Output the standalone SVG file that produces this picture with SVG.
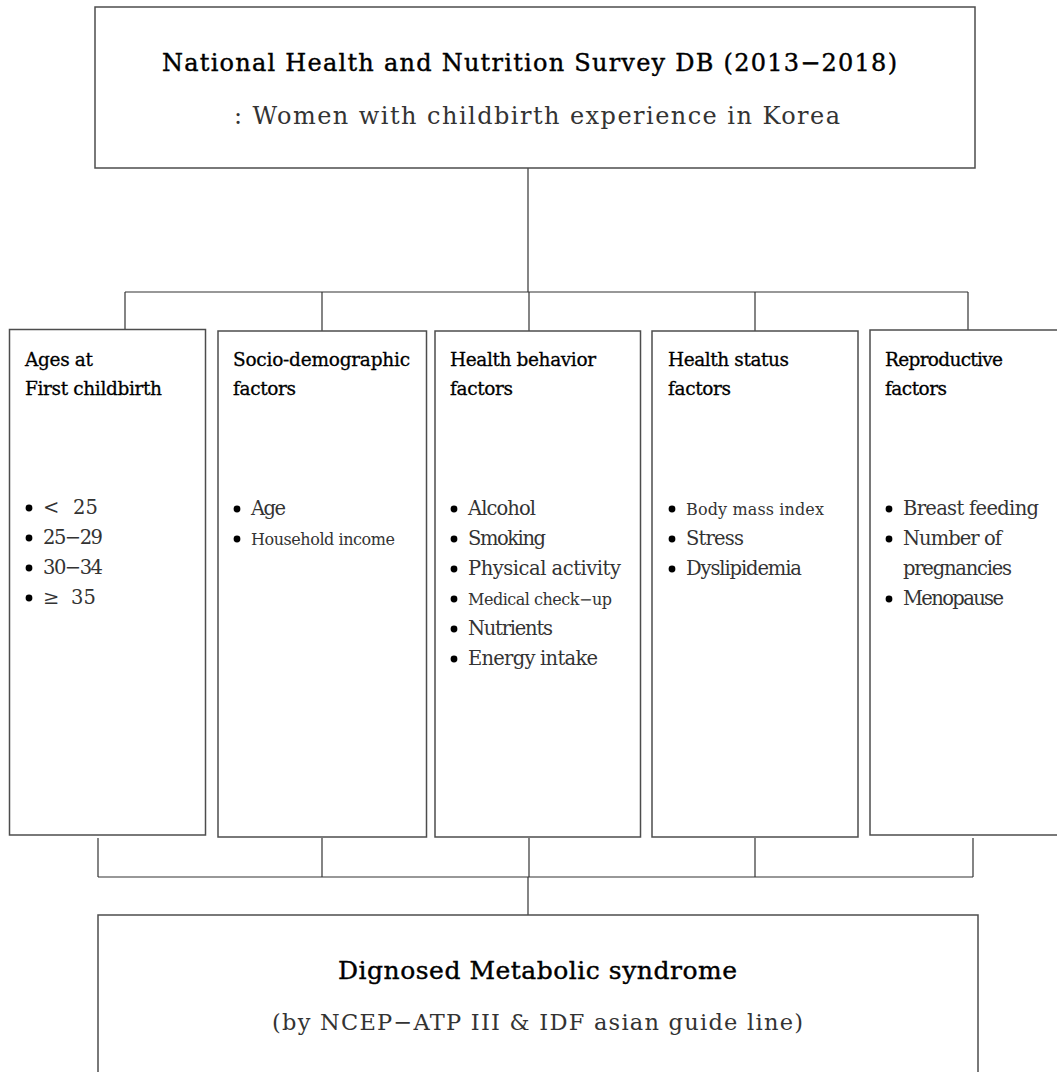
<svg xmlns="http://www.w3.org/2000/svg" width="1057" height="1072" viewBox="0 0 1057 1072">
<style>
.box{fill:#fff;stroke:#4d4d4d;stroke-width:1.5}
.conn line{stroke:#333;stroke-width:1.2}
text{font-family:"DejaVu Serif","Liberation Serif",serif}
.hd{font-size:18.5px;fill:#000;stroke:#000;stroke-width:0.3}
.bt{font-size:19.5px;fill:#333}
.sm{font-size:16px;fill:#333}
.ttl{font-size:24px;fill:#000;stroke:#000;stroke-width:0.4;text-anchor:middle}
.out{font-size:25px;fill:#000;stroke:#000;stroke-width:0.4;text-anchor:middle}
.sub{font-size:24px;fill:#333;text-anchor:middle}
.sub2{font-size:22.5px;fill:#333;text-anchor:middle}
</style>
<defs><circle id="dot" r="3.4" fill="#000"/></defs>
<rect width="1057" height="1072" fill="#fff"/>
<g id="connectors" class="conn">
<line x1="528" y1="168" x2="528" y2="292"/>
<line x1="125" y1="292" x2="968" y2="292"/>
<line x1="125" y1="292" x2="125" y2="330"/>
<line x1="322" y1="292" x2="322" y2="331"/>
<line x1="529" y1="292" x2="529" y2="331"/>
<line x1="755" y1="292" x2="755" y2="331"/>
<line x1="968" y1="292" x2="968" y2="330"/>
<line x1="98" y1="838" x2="98" y2="877"/>
<line x1="322" y1="838" x2="322" y2="877"/>
<line x1="529" y1="838" x2="529" y2="877"/>
<line x1="755" y1="838" x2="755" y2="877"/>
<line x1="973" y1="838" x2="973" y2="877"/>
<line x1="98" y1="877" x2="973" y2="877"/>
<line x1="528" y1="877" x2="528" y2="915"/>
</g>
<g id="source">
<rect class="box" x="95" y="7" width="880" height="161"/>
<text class="ttl" x="529.5" y="71" textLength="735" lengthAdjust="spacing">National Health and Nutrition Survey DB (2013−2018)</text>
<text class="sub" x="537" y="124" textLength="606" lengthAdjust="spacing">: Women with childbirth experience in Korea</text>
</g>
<g id="ages">
<rect class="box" x="9.5" y="329.5" width="196" height="505.5"/>
<text class="hd" x="25" y="366" textLength="68" lengthAdjust="spacing">Ages at</text>
<text class="hd" x="25" y="395" textLength="137" lengthAdjust="spacing">First childbirth</text>
<use href="#dot" x="29" y="508"/><text class="bt" x="43" y="514">&lt;</text><text class="bt" x="73" y="514">25</text>
<use href="#dot" x="29" y="538"/><text class="bt" x="43" y="544" textLength="60" lengthAdjust="spacing">25−29</text>
<use href="#dot" x="29" y="568"/><text class="bt" x="43" y="574" textLength="60" lengthAdjust="spacing">30−34</text>
<use href="#dot" x="29" y="598"/><text class="bt" x="43" y="604">≥</text><text class="bt" x="71" y="604">35</text>
</g>
<g id="socio">
<rect class="box" x="218" y="331" width="208.5" height="506"/>
<text class="hd" x="233" y="366" textLength="177" lengthAdjust="spacing">Socio-demographic</text>
<text class="hd" x="233" y="395" textLength="63" lengthAdjust="spacing">factors</text>
<use href="#dot" x="237" y="509"/><text class="bt" x="251" y="515" textLength="35" lengthAdjust="spacing">Age</text>
<use href="#dot" x="237" y="539"/><text class="sm" x="251" y="545" textLength="144" lengthAdjust="spacing">Household income</text>
</g>
<g id="behavior">
<rect class="box" x="435" y="331" width="205.5" height="506"/>
<text class="hd" x="450" y="366" textLength="146" lengthAdjust="spacing">Health behavior</text>
<text class="hd" x="450" y="395" textLength="63" lengthAdjust="spacing">factors</text>
<use href="#dot" x="454" y="509"/><text class="bt" x="468" y="515" textLength="68" lengthAdjust="spacing">Alcohol</text>
<use href="#dot" x="454" y="539"/><text class="bt" x="468" y="545" textLength="78" lengthAdjust="spacing">Smoking</text>
<use href="#dot" x="454" y="569"/><text class="bt" x="468" y="575" textLength="153" lengthAdjust="spacing">Physical activity</text>
<use href="#dot" x="454" y="599"/><text class="sm" x="468" y="605" textLength="144" lengthAdjust="spacing">Medical check−up</text>
<use href="#dot" x="454" y="629"/><text class="bt" x="468" y="635" textLength="85" lengthAdjust="spacing">Nutrients</text>
<use href="#dot" x="454" y="659"/><text class="bt" x="468" y="665" textLength="130" lengthAdjust="spacing">Energy intake</text>
</g>
<g id="status">
<rect class="box" x="652" y="331" width="206" height="506"/>
<text class="hd" x="668" y="366" textLength="121" lengthAdjust="spacing">Health status</text>
<text class="hd" x="668" y="395" textLength="63" lengthAdjust="spacing">factors</text>
<use href="#dot" x="672" y="509"/><text class="sm" x="686" y="515" textLength="138" lengthAdjust="spacing">Body mass index</text>
<use href="#dot" x="672" y="539"/><text class="bt" x="686" y="545" textLength="58" lengthAdjust="spacing">Stress</text>
<use href="#dot" x="672" y="569"/><text class="bt" x="686" y="575" textLength="116" lengthAdjust="spacing">Dyslipidemia</text>
</g>
<g id="reproductive">
<rect class="box" x="870" y="330" width="200" height="505"/>
<text class="hd" x="885" y="366" textLength="118" lengthAdjust="spacing">Reproductive</text>
<text class="hd" x="885" y="395" textLength="62" lengthAdjust="spacing">factors</text>
<use href="#dot" x="889" y="509"/><text class="bt" x="903" y="515" textLength="136" lengthAdjust="spacing">Breast feeding</text>
<use href="#dot" x="889" y="539"/><text class="bt" x="903" y="545" textLength="99" lengthAdjust="spacing">Number of</text>
<text class="bt" x="903" y="575" textLength="109" lengthAdjust="spacing">pregnancies</text>
<use href="#dot" x="889" y="599"/><text class="bt" x="903" y="605" textLength="101" lengthAdjust="spacing">Menopause</text>
</g>
<g id="outcome">
<rect class="box" x="98" y="915" width="880" height="200"/>
<text class="out" x="537.5" y="979" textLength="399" lengthAdjust="spacing">Dignosed Metabolic syndrome</text>
<text class="sub2" x="537.5" y="1030" textLength="531" lengthAdjust="spacing">(by NCEP−ATP III &amp; IDF asian guide line)</text>
</g>
</svg>
